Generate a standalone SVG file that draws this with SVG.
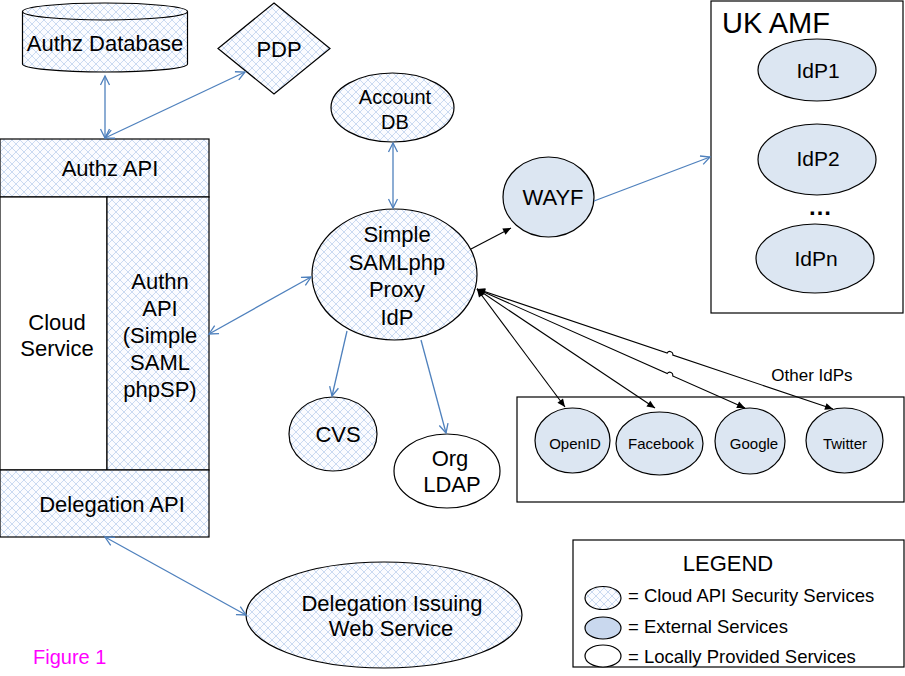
<svg xmlns="http://www.w3.org/2000/svg" width="905" height="676" viewBox="0 0 905 676">
<style>
text{font-family:"Liberation Sans",Arial,Helvetica,sans-serif;fill:#000;}
.shape{stroke:#000;stroke-width:1.2;}
.hatch{fill:url(#hatch);}
.ext{fill:#dce6f2;}
.loc{fill:#fff;}
.blue{stroke:#4f81bd;stroke-width:1.3;fill:none;marker-start:url(#openArrow);marker-end:url(#openArrow);}
.blue1{stroke:#4f81bd;stroke-width:1.3;fill:none;marker-end:url(#openArrow);}
.black{stroke:#000;stroke-width:1.1;fill:none;marker-start:url(#solidArrow);marker-end:url(#solidArrow);}
.black1{stroke:#000;stroke-width:1.1;fill:none;marker-end:url(#solidArrow);}
.c{text-anchor:middle;}
.f22{font-size:22px;}
.lg{font-size:18.5px;}
</style>
<defs>
<pattern id="hatch" width="8" height="8" patternUnits="userSpaceOnUse">
<rect width="8" height="8" fill="#fbfcff"/>
<path d="M0,0 L8,8 M8,0 L0,8" stroke="#b5cbeb" stroke-width="0.7"/>
</pattern>
<marker id="openArrow" markerUnits="userSpaceOnUse" markerWidth="12" markerHeight="12" refX="9" refY="4.5" orient="auto-start-reverse" overflow="visible">
<path d="M0,0 L9,4.5 L0,9" fill="none" stroke="#4f81bd" stroke-width="1.3"/>
</marker>
<marker id="solidArrow" markerUnits="userSpaceOnUse" markerWidth="10" markerHeight="10" refX="8" refY="3.5" orient="auto-start-reverse" overflow="visible">
<path d="M0,0 L8,3.5 L0,7 z" fill="#000"/>
</marker>
</defs>
<rect width="905" height="676" fill="#fff"/>

<g id="authz-database">
<path class="shape hatch" d="M22.5,11.5 L22.5,64 A82.5,8 0 0 0 187.5,64 L187.5,11.5"/>
<ellipse class="shape hatch" cx="105" cy="11.5" rx="82.5" ry="8.5"/>
<text class="c f22" x="105" y="51">Authz Database</text>
</g>

<g id="pdp">
<polygon class="shape hatch" points="274,3 330,48.5 274,94 218,48.5"/>
<text class="c f22" x="279" y="57">PDP</text>
</g>

<g id="authz-api">
<rect class="shape hatch" x="0" y="139" width="209" height="58"/>
<text class="c f22" x="110" y="176">Authz API</text>
</g>

<g id="cloud-service">
<rect class="shape loc" x="0" y="197" width="107" height="273"/>
<text class="c f22" x="57" y="330">Cloud</text>
<text class="c f22" x="57" y="356">Service</text>
</g>

<g id="authn-api">
<rect class="shape hatch" x="107" y="197" width="102" height="273"/>
<text class="c f22" x="160" y="289">Authn</text>
<text class="c f22" x="160" y="316">API</text>
<text class="c f22" x="160" y="343">(Simple</text>
<text class="c f22" x="160" y="370">SAML</text>
<text class="c f22" x="160" y="397">phpSP)</text>
</g>

<g id="delegation-api">
<rect class="shape hatch" x="0" y="470" width="209" height="67"/>
<text class="c f22" x="112" y="512">Delegation API</text>
</g>

<g id="account-db">
<ellipse class="shape hatch" cx="392.5" cy="107.5" rx="61.5" ry="34.5"/>
<text class="c" font-size="20" x="395" y="104">Account</text>
<text class="c" font-size="20" x="395" y="129">DB</text>
</g>

<g id="proxy-idp">
<ellipse class="shape hatch" cx="394.5" cy="274.5" rx="82.5" ry="65.5"/>
<text class="c f22" x="397" y="242">Simple</text>
<text class="c f22" x="397" y="270">SAMLphp</text>
<text class="c f22" x="397" y="297">Proxy</text>
<text class="c f22" x="397" y="325">IdP</text>
</g>

<g id="wayf">
<ellipse class="shape ext" cx="548.5" cy="197" rx="45.5" ry="40"/>
<text class="c f22" x="553" y="205">WAYF</text>
</g>

<g id="uk-amf">
<rect class="shape" fill="#fff" x="711" y="1" width="192" height="312"/>
<text font-size="29" x="722" y="33">UK AMF</text>
<ellipse class="shape ext" cx="817" cy="70" rx="59" ry="31"/>
<text class="c" font-size="21" x="818" y="78">IdP1</text>
<ellipse class="shape ext" cx="817" cy="159.5" rx="59" ry="35.5"/>
<text class="c" font-size="21" x="818" y="166">IdP2</text>
<text class="c" font-size="24" font-weight="bold" x="820" y="215">…</text>
<ellipse class="shape ext" cx="815" cy="258.5" rx="59" ry="34.5"/>
<text class="c" font-size="21" x="816" y="266">IdPn</text>
</g>

<g id="other-idps">
<rect class="shape" fill="#fff" x="517" y="397" width="387" height="105"/>
<text class="c" font-size="17" x="812" y="381">Other IdPs</text>
</g>

<g id="openid">
<ellipse class="shape ext" cx="572.5" cy="440.5" rx="37.5" ry="32.5"/>
<text class="c" font-size="15" x="575" y="449">OpenID</text>
</g>
<g id="facebook">
<ellipse class="shape ext" cx="659.5" cy="443.5" rx="43.5" ry="31.5"/>
<text class="c" font-size="15" x="661" y="449">Facebook</text>
</g>
<g id="google">
<ellipse class="shape ext" cx="750" cy="441" rx="35" ry="33"/>
<text class="c" font-size="15" x="754" y="449">Google</text>
</g>
<g id="twitter">
<ellipse class="shape ext" cx="844.5" cy="440.5" rx="38.5" ry="32.5"/>
<text class="c" font-size="15" x="845" y="449">Twitter</text>
</g>

<g id="cvs">
<ellipse class="shape hatch" cx="333" cy="434" rx="44" ry="37"/>
<text class="c f22" x="338" y="442">CVS</text>
</g>

<g id="org-ldap">
<ellipse class="shape loc" cx="447" cy="471" rx="53" ry="37"/>
<text class="c f22" x="450" y="466">Org</text>
<text class="c f22" x="452" y="492">LDAP</text>
</g>

<g id="delegation-issuing">
<ellipse class="shape hatch" cx="384" cy="615" rx="138" ry="53"/>
<text class="c f22" x="392" y="611">Delegation Issuing</text>
<text class="c f22" x="391" y="636">Web Service</text>
</g>

<g id="figure-label">
<text font-size="20" x="33" y="664" style="fill:#f0f">Figure 1</text>
</g>

<g id="legend">
<rect class="shape" fill="#fff" x="573" y="540" width="331" height="127"/>
<text class="c f22" x="728" y="571">LEGEND</text>
<ellipse class="shape hatch" cx="603" cy="598" rx="18" ry="11.5" stroke-width="1"/>
<text class="lg" x="628" y="602">= Cloud API Security Services</text>
<ellipse class="shape" fill="#c9d8ee" cx="603" cy="628" rx="18" ry="11" stroke-width="1"/>
<text class="lg" x="628" y="633">= External Services</text>
<ellipse class="shape loc" cx="603" cy="656" rx="18" ry="11" stroke-width="1"/>
<text class="lg" x="628" y="663">= Locally Provided Services</text>
</g>

<g id="connectors">
<line class="blue" x1="105" y1="76" x2="105" y2="138"/>
<line class="blue" x1="105" y1="138" x2="245" y2="72"/>
<line class="blue" x1="393" y1="143" x2="393" y2="208"/>
<line class="blue" x1="209" y1="334" x2="311" y2="277"/>
<line class="blue" x1="105" y1="537" x2="246" y2="615"/>
<line class="blue1" x1="347" y1="331" x2="332" y2="396"/>
<line class="blue1" x1="421" y1="340" x2="446" y2="433"/>
<line class="blue1" x1="594" y1="201" x2="710" y2="157"/>
<line class="black1" x1="471" y1="249" x2="511" y2="228"/>
<line class="black" x1="477" y1="289" x2="565" y2="407"/>
<line class="black" x1="477" y1="289" x2="655" y2="408"/>
<path class="black" d="M477,289 L667.3,373.5 A3,3 0 0 1 672.7,375.9 L745,408"/>
<path class="black" d="M477,289 L667.2,353.1 A3,3 0 0 1 672.8,355.1 L833,409"/>
</g>
</svg>
